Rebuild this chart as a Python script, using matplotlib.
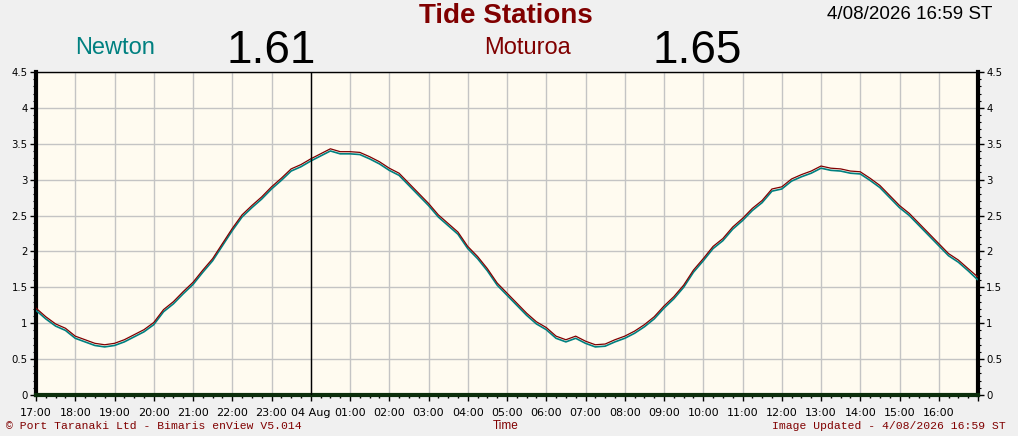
import matplotlib
matplotlib.use("Agg")
import matplotlib.pyplot as plt
import matplotlib.dates as mdates
from matplotlib.ticker import FuncFormatter, MultipleLocator
import pandas as pd

# ---- data ----
times = list(pd.date_range("2026-08-03 17:00", "2026-08-04 16:45", freq="15min")) + [pd.Timestamp("2026-08-04 16:59")]

newton = [1.18, 1.06, 0.96, 0.90, 0.79, 0.74, 0.69, 0.67, 0.69, 0.74, 0.81, 0.88,
          0.98, 1.16, 1.27, 1.41, 1.54, 1.71, 1.87, 2.08, 2.29, 2.48, 2.61, 2.73,
          2.87, 2.99, 3.12, 3.18, 3.26, 3.33, 3.40, 3.36, 3.36, 3.35, 3.29, 3.22,
          3.13, 3.06, 2.92, 2.78, 2.64, 2.48, 2.36, 2.24, 2.04, 1.90, 1.73, 1.53,
          1.39, 1.25, 1.11, 0.99, 0.91, 0.79, 0.74, 0.79, 0.72, 0.67, 0.68, 0.74,
          0.79, 0.86, 0.95, 1.06, 1.21, 1.34, 1.50, 1.71, 1.87, 2.04, 2.15, 2.31,
          2.43, 2.57, 2.68, 2.84, 2.87, 2.98, 3.04, 3.09, 3.16, 3.13, 3.12, 3.09,
          3.08, 2.99, 2.89, 2.75, 2.61, 2.50, 2.36, 2.22, 2.08, 1.94, 1.85, 1.73,
          1.61]

moturoa = [1.21, 1.09, 0.99, 0.93, 0.82, 0.77, 0.72, 0.70, 0.72, 0.77, 0.84, 0.91,
           1.01, 1.19, 1.30, 1.44, 1.57, 1.74, 1.90, 2.11, 2.32, 2.51, 2.64, 2.76,
           2.90, 3.02, 3.15, 3.21, 3.29, 3.36, 3.43, 3.39, 3.39, 3.38, 3.32, 3.25,
           3.16, 3.09, 2.95, 2.81, 2.67, 2.51, 2.39, 2.27, 2.07, 1.93, 1.76, 1.56,
           1.42, 1.28, 1.14, 1.02, 0.94, 0.82, 0.77, 0.82, 0.75, 0.70, 0.71, 0.77,
           0.82, 0.89, 0.98, 1.09, 1.24, 1.37, 1.53, 1.74, 1.90, 2.07, 2.18, 2.34,
           2.46, 2.60, 2.71, 2.87, 2.90, 3.01, 3.07, 3.12, 3.19, 3.16, 3.15, 3.12,
           3.11, 3.02, 2.92, 2.78, 2.64, 2.53, 2.39, 2.25, 2.11, 1.97, 1.88, 1.76,
           1.65]

yticks = [0, 0.5, 1, 1.5, 2, 2.5, 3, 3.5, 4, 4.5]
title = "Tide Stations"
stamp = "4/08/2026 16:59 ST"
newton_now = "1.61"
moturoa_now = "1.65"

# ---- figure ----
W, H = 1018, 436
fig = plt.figure(figsize=(W / 100, H / 100), dpi=100, facecolor="#f0f0f0")
ax = fig.add_axes([36 / W, 41 / H, 942 / W, 323 / H])
ax.set_facecolor("#fffbf0")

ax.plot(times, newton, color="#008080", lw=1.2, zorder=3)
ax.plot(times, moturoa, color="#800000", lw=0.9, zorder=4)

t0 = pd.Timestamp("2026-08-03 17:00")
t1 = pd.Timestamp("2026-08-04 17:00")
ax.set_xlim(t0, t1)
ax.set_ylim(0, 4.5)
ax.axvline(pd.Timestamp("2026-08-04 00:00"), color="black", lw=1, zorder=5)

ax.xaxis.set_major_locator(mdates.HourLocator())
ax.xaxis.set_minor_locator(mdates.MinuteLocator(byminute=[15, 30, 45]))
t1num = mdates.date2num(t1)


def fmt(x, pos):
    if x >= t1num - 1e-6:
        return ""
    d = mdates.num2date(x)
    if d.hour == 0:
        return d.strftime("%d %b")
    return d.strftime("%H:%M")


ax.xaxis.set_major_formatter(FuncFormatter(fmt))
ax.set_yticks(yticks)
ax.set_yticklabels([f"{v:g}" for v in yticks])
ax.yaxis.set_minor_locator(MultipleLocator(0.1))

ax.grid(True, which="major", color="#c4c4c4", lw=1, zorder=1)
ax.set_axisbelow(True)

ax.tick_params(axis="x", which="major", length=4, width=1, pad=5, labelsize=8, colors="black")
ax.tick_params(axis="x", which="minor", length=2, width=1)
ax.tick_params(axis="y", which="major", length=4, width=1, pad=2, labelsize=7.3,
               left=True, right=True, labelleft=True, labelright=True)
ax.tick_params(axis="y", which="minor", length=2, width=0.8, left=True, right=True)

for s in ["left", "right"]:
    ax.spines[s].set_linewidth(3)
    ax.spines[s].set_color("black")
ax.spines["bottom"].set_linewidth(3)
ax.spines["bottom"].set_color("#0b2e0b")
ax.spines["top"].set_linewidth(1)
ax.spines["top"].set_color("black")


def ft(x, y, s, **kw):
    fig.text(x / W, 1 - y / H, s, va="baseline", **kw)


ft(419, 23, title, ha="left", fontsize=20, fontweight="bold", color="#800000", family="Liberation Sans")
ft(827, 19, stamp, ha="left", fontsize=13.5, color="black", family="Liberation Sans")
ft(75, 54, "Newton", ha="left", fontsize=17, color="#008080", family="Liberation Sans")
ft(484, 54, "Moturoa", ha="left", fontsize=17, color="#800000", family="Liberation Sans")
ft(227, 63, newton_now, ha="left", fontsize=33, color="black", family="Liberation Sans")
ft(652, 63, moturoa_now, ha="left", fontsize=33, color="black", family="Liberation Sans")

ft(6, 429, "\u00a9 Port Taranaki Ltd - Bimaris enView V5.014", ha="left", fontsize=8.2,
   color="#800000", family="Liberation Mono")
ft(1006, 429, "Image Updated - " + stamp, ha="right", fontsize=8.2,
   color="#800000", family="Liberation Mono")
ft(506, 429, "Time", ha="center", fontsize=8.5, color="#800000", family="Liberation Sans")

fig.savefig("out.png", dpi=100, facecolor=fig.get_facecolor())
